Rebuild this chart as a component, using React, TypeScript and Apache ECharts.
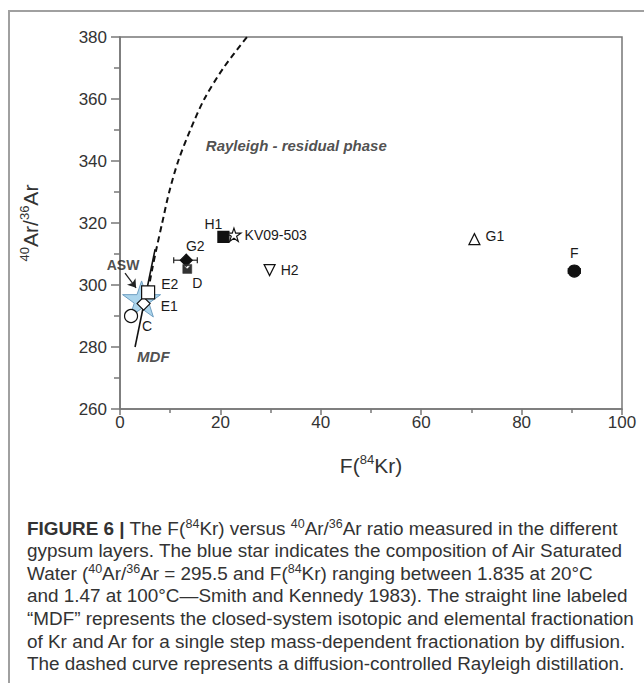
import React, { useEffect, useRef } from 'react';
import * as echarts from 'echarts';

// ---- data ----
const xRange = [0, 100];
const yRange = [260, 380];
const openCircleC = [[2.2, 290.0]];
const aswStar = [[4.3, 295.5]];
const openDiamondE1 = [[4.7, 294.0]];
const openSquareE2 = [[5.6, 297.6]];
const filledDiamondG2 = [[13.2, 308.0]];
const hourglassD = [[13.4, 305.2]];
const filledSquareH1 = [[20.6, 315.5]];
const openStarKV = [[22.7, 316.2]];
const downTriangleH2 = [[29.8, 304.8]];
const upTriangleG1 = [[70.6, 314.8]];
const filledCircleF = [[90.5, 304.5]];
const errorBars = [
  [13.2, 308.0, 10.7, 15.4],
  [90.5, 304.5, 89.3, 91.7],
];
const mdfLine = [[3.0, 280.0], [7.0, 311.6]];
const rayleighCurve = [
  [5.6, 298], [6.4, 305], [7.3, 312], [8.4, 320], [9.8, 330], [11.6, 340],
  [14.0, 350], [16.8, 360], [20.6, 370], [25.3, 380],
];
const aswArrow = [[1.0, 303.8], [3.2, 299.1]];
const annotations = [
  { text: 'Rayleigh - residual phase', at: [17.1, 345.0] },
  { text: 'MDF', at: [3.4, 276.8] },
];
const aswLabelAt = [0.6, 306.3];

const captionLines = [
  '{b|FIGURE 6 |} The F({s|84}Kr) versus {s|40}Ar/{s|36}Ar ratio measured in the different',
  'gypsum layers. The blue star indicates the composition of Air Saturated',
  'Water ({s|40}Ar/{s|36}Ar = 295.5 and F({s|84}Kr) ranging between 1.835 at 20°C',
  'and 1.47 at 100°C\u2014{g|Smith and Kennedy 1983}). The straight line labeled',
  '\u201cMDF\u201d represents the closed-system isotopic and elemental fractionation',
  'of Kr and Ar for a single step mass-dependent fractionation by diffusion.',
  'The dashed curve represents a diffusion-controlled Rayleigh distillation.',
];

const FONT = '"Liberation Sans", Arial, Helvetica, sans-serif';
const STAR =
  'path://M50,0 L61.8,35.3 L98.9,35.3 L68.9,57.1 L80.3,92.7 L50,70.9 L19.7,92.7 L31.1,57.1 L1.1,35.3 L38.2,35.3 Z';
const HOURGLASS = 'path://M0,0 L10,0 L10,10 L0,10 Z M1.5,1.5 L5,5 L8.5,1.5 Z M1.5,8.5 L5,5 L8.5,8.5 Z';

function marker(
  name: string,
  data: number[][],
  symbol: string,
  size: number,
  fill: string,
  label: any,
  extra: any = {}
) {
  return {
    type: 'scatter',
    name,
    data,
    symbol,
    symbolSize: size,
    symbolKeepAspect: true,
    z: 5,
    itemStyle: { color: fill, borderColor: '#111', borderWidth: 1.2, opacity: 1 },
    label: label
      ? {
          show: true,
          formatter: name,
          fontFamily: FONT,
          fontSize: 14,
          color: '#1a1a1a',
          opacity: 1,
          ...label,
        }
      : { show: false },
    ...extra,
  };
}

export default function App() {
  const ref = useRef<HTMLDivElement>(null);
  useEffect(() => {
    if (!ref.current) return;
    const chart = echarts.init(ref.current, null, { renderer: 'svg' });
    const CAP = 18.9;
    const nameRich = {
      s: { fontSize: 13, fontFamily: FONT, color: '#333', verticalAlign: 'top', lineHeight: 14 },
    };
    const option: any = {
      animation: false,
      backgroundColor: '#fff',
      grid: {
        left: 120,
        right: 22,
        top: 37,
        bottom: 274,
        show: true,
        borderColor: '#777',
        borderWidth: 1.5,
        backgroundColor: 'transparent',
      },
      xAxis: {
        type: 'value',
        min: xRange[0],
        max: xRange[1],
        interval: 20,
        name: 'F({s|84}Kr)',
        nameLocation: 'middle',
        nameGap: 44,
        nameTextStyle: {
          fontFamily: FONT,
          fontSize: 21,
          color: '#333',
          lineHeight: 24,
          rich: nameRich,
        },
        axisLine: { show: true, lineStyle: { color: '#777', width: 1.5 } },
        axisTick: { show: true, length: 6, lineStyle: { color: '#777', width: 1.5 } },
        minorTick: { show: true, splitNumber: 2, length: 4, lineStyle: { color: '#777', width: 1.5 } },
        splitLine: { show: false },
        axisLabel: { fontFamily: FONT, fontSize: 17, color: '#333', margin: 5 },
      },
      yAxis: {
        type: 'value',
        min: yRange[0],
        max: yRange[1],
        interval: 20,
        name: '{s|40}Ar/{s|36}Ar',
        nameLocation: 'middle',
        nameRotate: 90,
        nameGap: 78,
        nameTextStyle: {
          fontFamily: FONT,
          fontSize: 21,
          color: '#333',
          lineHeight: 24,
          rich: nameRich,
        },
        axisLine: { show: true, lineStyle: { color: '#777', width: 1.5 } },
        axisTick: { show: true, length: 9, lineStyle: { color: '#777', width: 1.5 } },
        minorTick: { show: true, splitNumber: 2, length: 6, lineStyle: { color: '#777', width: 1.5 } },
        splitLine: { show: false },
        axisLabel: { fontFamily: FONT, fontSize: 17, color: '#333', margin: 13 },
      },
      series: [
        {
          type: 'scatter',
          name: 'ASW',
          data: aswStar,
          symbol: STAR,
          symbolSize: 38,
          symbolKeepAspect: true,
          z: 2,
          itemStyle: { color: '#acd5ec', borderColor: '#6f9fc2', borderWidth: 1, opacity: 1 },
        },
        {
          type: 'line',
          name: 'Rayleigh',
          data: rayleighCurve,
          smooth: 0.3,
          showSymbol: false,
          symbol: 'none',
          z: 3,
          lineStyle: { color: '#111', width: 2, type: [6, 4] },
        },
        {
          type: 'line',
          name: 'MDF',
          data: mdfLine,
          showSymbol: false,
          symbol: 'none',
          z: 3,
          lineStyle: { color: '#111', width: 1.6 },
        },
        {
          type: 'lines',
          coordinateSystem: 'cartesian2d',
          z: 4,
          symbol: ['none', 'arrow'],
          symbolSize: 8,
          lineStyle: { color: '#222', width: 1.3, opacity: 1 },
          data: [{ coords: aswArrow }],
        },
        {
          type: 'custom',
          name: 'errors',
          z: 4,
          data: errorBars,
          encode: { x: [0, 2, 3], y: 1 },
          renderItem: (params: any, api: any) => {
            const y = api.value(1);
            const a = api.coord([api.value(2), y]);
            const b = api.coord([api.value(3), y]);
            const st = { stroke: '#222', lineWidth: 1.2 };
            const h = 3;
            return {
              type: 'group',
              children: [
                { type: 'line', shape: { x1: a[0], y1: a[1], x2: b[0], y2: b[1] }, style: st },
                { type: 'line', shape: { x1: a[0], y1: a[1] - h, x2: a[0], y2: a[1] + h }, style: st },
                { type: 'line', shape: { x1: b[0], y1: b[1] - h, x2: b[0], y2: b[1] + h }, style: st },
              ],
            };
          },
        },
        marker('C', openCircleC, 'circle', 13, '#fff', { position: 'bottom', offset: [16, -9] }),
        marker('E1', openDiamondE1, 'diamond', 13, '#fff', { position: 'right', distance: 10, offset: [0, 2] }),
        marker('E2', openSquareE2, 'rect', 13, '#fff', { position: 'right', distance: 6, offset: [0, -8] }),
        marker('G2', filledDiamondG2, 'diamond', 12, '#111', { position: 'top', distance: 1, offset: [9, 0] }),
        marker('D', hourglassD, HOURGLASS, 9, '#333', { position: 'bottom', distance: 2, offset: [10, 0] }, {
          itemStyle: { color: '#333', borderColor: '#333', borderWidth: 0.5, opacity: 1 },
        }),
        marker('H1', filledSquareH1, 'rect', 11, '#111', { position: 'top', distance: 0, offset: [-10, 0] }),
        marker('KV09-503', openStarKV, STAR, 14, '#fff', { position: 'right', distance: 3 }),
        marker('H2', downTriangleH2, 'triangle', 11, '#fff', { position: 'right', distance: 5 }, { symbolRotate: 180 }),
        marker('G1', upTriangleG1, 'triangle', 11, '#fff', { position: 'right', distance: 5, offset: [0, -3] }),
        marker('F', filledCircleF, 'circle', 12, '#111', { position: 'top', distance: 4 }),
        {
          type: 'scatter',
          name: 'annotations',
          data: annotations.map((a) => ({ value: a.at, name: a.text })),
          symbolSize: 0,
          z: 6,
          label: {
            show: true,
            formatter: '{b}',
            position: 'right',
            distance: 0,
            fontFamily: FONT,
            fontSize: 15,
            fontWeight: 'bold',
            fontStyle: 'italic',
            color: '#222',
          },
        },
        {
          type: 'scatter',
          name: 'ASW label',
          data: [{ value: aswLabelAt, name: 'ASW' }],
          symbolSize: 0,
          z: 6,
          label: {
            show: true,
            formatter: '{b}',
            position: 'inside',
            fontFamily: FONT,
            fontSize: 14,
            fontWeight: 'bold',
            color: '#222',
          },
        },
      ],
      graphic: [
        {
          type: 'polyline',
          shape: { points: [[644, 11], [9, 11], [9, 683]] },
          style: { stroke: '#a0a0a0', lineWidth: 2, fill: 'none' },
          silent: true,
        },
        ...captionLines.map((t, i) => ({
          type: 'text',
          x: 27,
          y: 517 + i * 22.6,
          silent: true,
          style: {
            text: t,
            fontFamily: FONT,
            fontSize: CAP,
            fill: '#333',
            lineHeight: 22,
            rich: {
              b: { fontFamily: FONT, fontSize: CAP, fontWeight: 'bold', color: '#1a1a1a', lineHeight: 22 },
              g: { fontFamily: FONT, fontSize: CAP, color: '#8a8a8a', lineHeight: 22 },
              s: { fontSize: 12.5, fontFamily: FONT, color: '#333', verticalAlign: 'top', lineHeight: 12 },
            },
          },
        })),
      ],
    };
    chart.setOption(option);
    return () => chart.dispose();
  }, []);
  return (
    <div
      ref={ref}
      style={{ position: 'absolute', left: 0, top: 0, width: 644, height: 683, background: '#fff' }}
    />
  );
}
